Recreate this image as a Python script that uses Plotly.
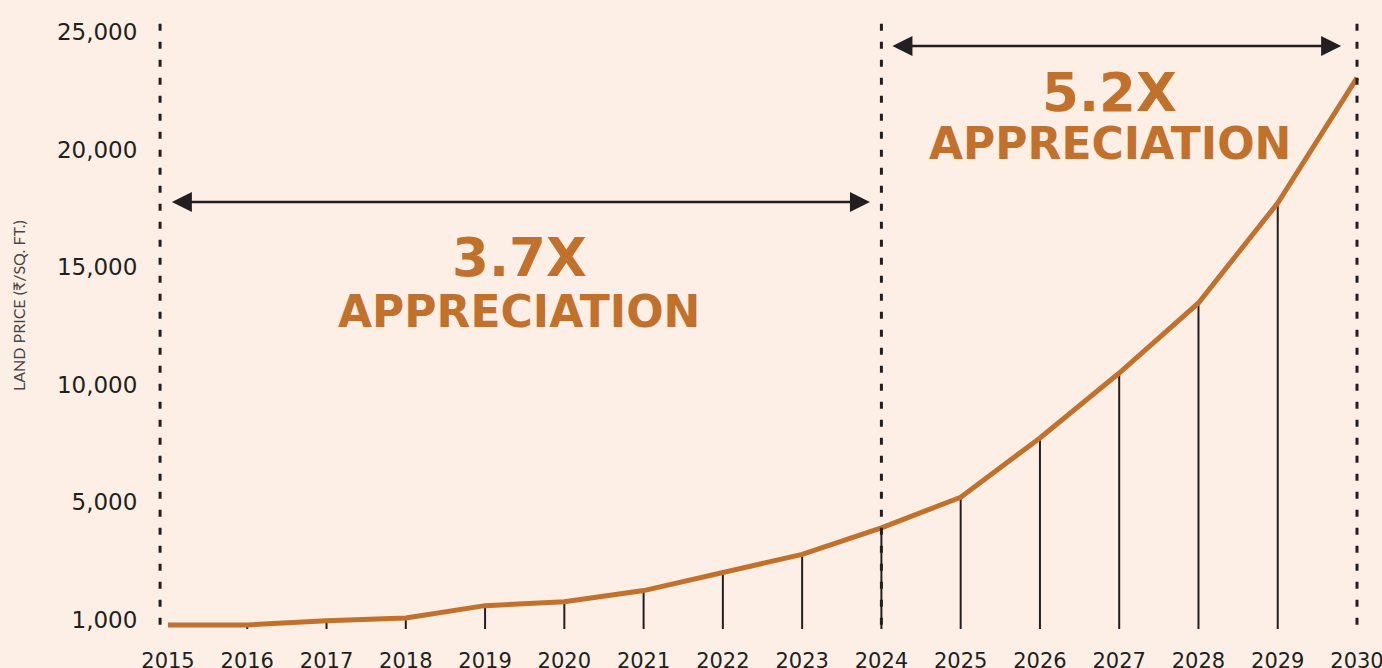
import plotly.graph_objects as go

# ---- data (y in chart display units: the "1,000" tick sits at 0) ----
years = [2015, 2016, 2017, 2018, 2019, 2020, 2021, 2022, 2023,
         2024, 2025, 2026, 2027, 2028, 2029, 2030]
price_plot = [-210, -210, -30, 85, 610, 780, 1250, 2000, 2790,
              3920, 5220, 7740, 10500, 13480, 17730, 23050]
tick_vals = [0, 5000, 10000, 15000, 20000, 25000]
tick_text = ["1,000", "5,000", "10,000", "15,000", "20,000", "25,000"]
periods = [(2015, 2024, "3.7X"), (2024, 2030, "5.2X")]

BG = "#FDEFE6"
ORANGE = "#C1712C"
DARK = "#231F20"
Y_MIN, Y_MAX = -383, 25595
X_MIN, X_MAX = 2014.773, 2030.063

fig = go.Figure()

# drop lines from each point to the baseline (2016..2029)
dx, dy = [], []
for yr, v in zip(years[1:-1], price_plot[1:-1]):
    dx += [yr, yr, None]
    dy += [Y_MIN, v, None]
fig.add_trace(go.Scatter(x=dx, y=dy, mode="lines",
                         line=dict(color=DARK, width=2),
                         hoverinfo="skip", showlegend=False))

# main price line
fig.add_trace(go.Scatter(x=years, y=price_plot, mode="lines",
                         line=dict(color=ORANGE, width=5),
                         showlegend=False))

# dashed period separators
sep_x = [years[0] - 0.1, periods[0][1], periods[1][1]]
for sx in sep_x:
    fig.add_shape(type="line", xref="x", yref="y domain",
                  x0=sx, x1=sx, y0=0.007, y1=0.9967,
                  line=dict(color=DARK, width=3, dash="7px,11px"))

# double arrows + labels
arrow_y = [17770, 24400]
arrow_x = [(years[0] + 0.03, periods[0][1] - 0.145),
           (periods[1][0] + 0.12, periods[1][1] - 0.2)]
label_pos = [(2019.43, 15400, 13100), (2026.88, 22420, 20250)]
for (x0, x1), ay, (lx, y1, y2), per in zip(arrow_x, arrow_y, label_pos, periods):
    fig.add_annotation(x=x1, y=ay, ax=x0, ay=ay, xref="x", yref="y",
                       axref="x", ayref="y", text="", showarrow=True,
                       arrowhead=2, arrowside="end+start", arrowsize=1.6,
                       arrowwidth=2.5, arrowcolor=DARK, standoff=0,
                       startstandoff=0)
    fig.add_annotation(x=lx, y=y1, xref="x", yref="y", text=per[2],
                       showarrow=False, xanchor="center", yanchor="middle",
                       font=dict(family="DejaVu Sans", size=53, color=ORANGE,
                                 weight="bold"))
    fig.add_annotation(x=lx, y=y2, xref="x", yref="y", text="APPRECIATION",
                       showarrow=False, xanchor="center", yanchor="middle",
                       font=dict(family="DejaVu Sans", size=44, color=ORANGE,
                                 weight="bold"))

# y-axis title (pixel position converted to paper coords)
fig.add_annotation(x=(19 - 150) / 1212, y=(668 - 39 - 306) / 611,
                   xref="paper", yref="paper", xanchor="center", yanchor="middle",
                   text="LAND PRICE (₹/SQ. FT.)", showarrow=False,
                   textangle=-90, font=dict(family="Lato", size=16, color="#4A4546"))

fig.update_layout(
    width=1382, height=668,
    paper_bgcolor=BG, plot_bgcolor=BG,
    margin=dict(l=150, r=20, t=18, b=39, autoexpand=False),
    xaxis=dict(range=[X_MIN, X_MAX], tickvals=years,
               ticktext=[str(y) for y in years], automargin=False,
               ticklabeloverflow="allow",
               showgrid=False, zeroline=False, showline=False,
               ticks="outside", ticklen=13, tickcolor="rgba(0,0,0,0)",
               tickfont=dict(family="DejaVu Sans", size=21, color=DARK)),
    yaxis=dict(range=[Y_MIN, Y_MAX], tickvals=tick_vals, ticktext=tick_text,
               automargin=False, ticklabeloverflow="allow",
               showgrid=False, zeroline=False, showline=False,
               ticks="outside", ticklen=7, tickcolor="rgba(0,0,0,0)",
               tickfont=dict(family="DejaVu Sans", size=23, color=DARK)),
)

fig.write_html("out.html", config={"displayModeBar": False},
               post_script="document.body.style.margin='0';document.body.style.overflow='hidden';")
